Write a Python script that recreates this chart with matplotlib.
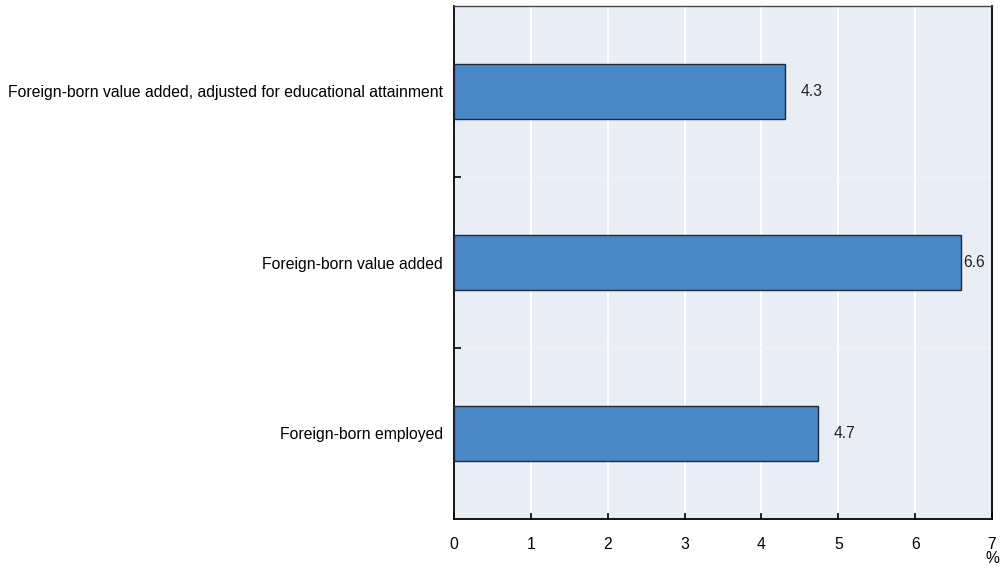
import numpy as np
import matplotlib.pyplot as plt

plt.rcParams['font.family'] = ['Liberation Sans', 'DejaVu Sans']

categories = [
    "Foreign-born employed",
    "Foreign-born value added",
    "Foreign-born value added, adjusted for educational attainment",
]
values = [4.74, 6.60, 4.31]
xticks = [0, 1, 2, 3, 4, 5, 6, 7]

fs = 11.3

fig = plt.figure(figsize=(10.07, 5.66), dpi=100)
ax = fig.add_axes([454 / 1007, 1 - 519 / 566, (992 - 454) / 1007, (519 - 6) / 566])
ax.set_facecolor('#e9edf5')

y = np.arange(len(categories))
ax.barh(y, values, height=0.32, color='#4b87c5', edgecolor='#1c2a3a', linewidth=1.0, zorder=3)

for yi, v in zip(y, values):
    # the long bar leaves no room, so its label sits right at the bar end
    offset = 1.5 if v > 6 else 15
    ax.annotate(f"{v:.1f}", (v, yi), xytext=(offset * 0.72, 0), textcoords='offset points',
                ha='left', va='center', fontsize=fs, color='#222222', zorder=4)

ax.set_xlim(0, 7)
ax.set_ylim(-0.5, len(categories) - 0.5)
ax.set_xticks(xticks)
ax.set_xticklabels([str(t) for t in xticks], fontsize=fs)
ax.set_yticks(y)
ax.set_yticklabels(categories, fontsize=fs)
ax.tick_params(axis='y', length=0, pad=8)
ax.tick_params(axis='x', direction='in', length=4, width=1.2, pad=13, color='black')

# boundary ticks between categories
ax.set_yticks([0.5, 1.5], minor=True)
ax.tick_params(axis='y', which='minor', direction='in', length=5, width=1.2)
ax.grid(axis='y', which='minor', color='#f3f5fa', linewidth=0.6, zorder=0)
ax.grid(axis='x', which='major', color='white', linewidth=1.5, zorder=0)

for side in ['left', 'right', 'bottom']:
    ax.spines[side].set_color('black')
    ax.spines[side].set_linewidth(1.3)
ax.spines['top'].set_color('#444444')
ax.spines['top'].set_linewidth(1.0)

ax.text(1.0, -0.062, "%", transform=ax.transAxes, ha='center', va='top', fontsize=fs)

fig.savefig('out.png', dpi=100)
